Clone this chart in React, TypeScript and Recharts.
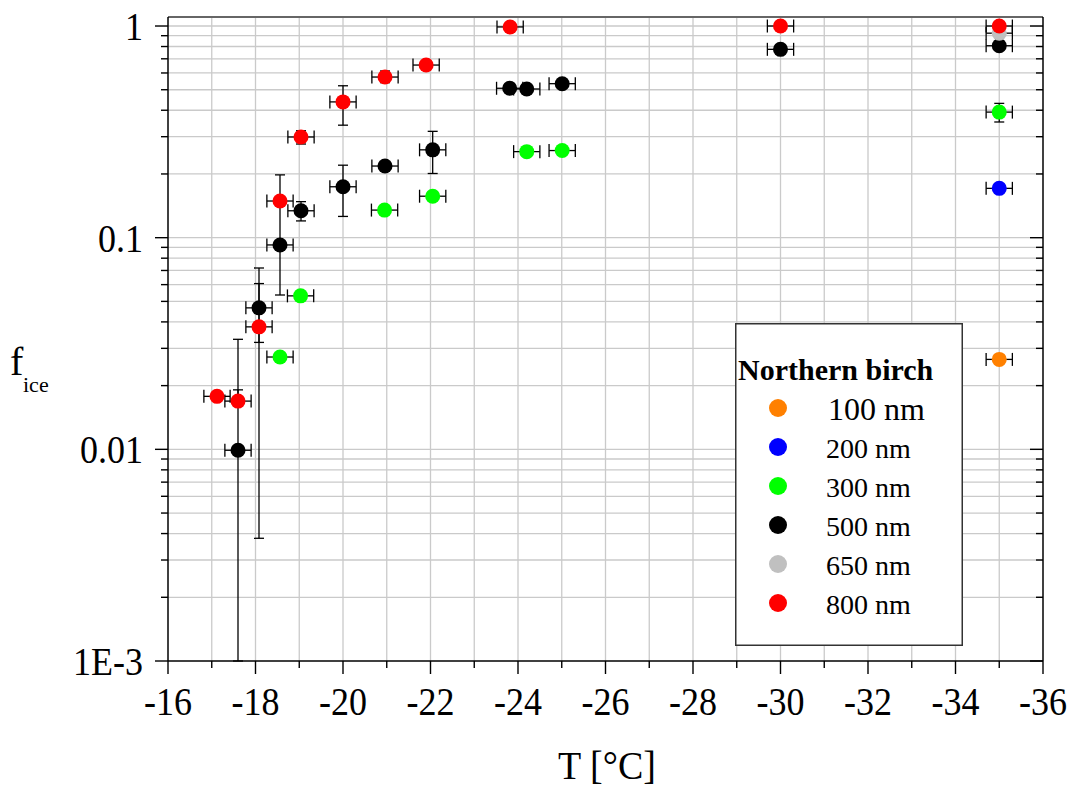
import React from 'react';
import { ScatterChart, Scatter, XAxis, YAxis, ErrorBar, ReferenceLine } from 'recharts';

// ---------- data ----------
const seriesNames = ['100 nm', '200 nm', '300 nm', '500 nm', '650 nm', '800 nm'];
const seriesColors = ['#ff8000', '#0000ff', '#00ff00', '#000000', '#c0c0c0', '#ff0000'];

const t100 = [-35];
const f100 = [0.0266];
const low100 = [null];
const high100 = [null];

const t200 = [-35];
const f200 = [0.171];
const low200 = [null];
const high200 = [null];

const t300 = [-18.56, -19.03, -20.95, -22.05, -24.2, -25.01, -35];
const f300 = [0.0273, 0.0531, 0.135, 0.157, 0.255, 0.258, 0.392];
const low300 = [null, null, null, null, null, null, 0.352];
const high300 = [null, null, null, null, null, null, 0.431];

const t500 = [-17.6, -18.08, -18.56, -19.04, -20, -20.96, -22.05, -23.81, -24.2, -25.01, -30, -35];
const f500 = [0.0099, 0.0466, 0.0924, 0.134, 0.174, 0.218, 0.26, 0.508, 0.504, 0.534, 0.776, 0.807];
const low500 = [0.001, 0.0038, 0.0536, 0.12, 0.126, null, 0.201, null, null, null, null, null];
const high500 = [0.0331, 0.0719, 0.198, 0.148, 0.22, null, 0.318, null, null, null, null, null];

const t650 = [-35];
const f650 = [0.925];
const low650 = [null];
const high650 = [null];

const t800 = [-17.12, -17.6, -18.08, -18.56, -19.04, -20, -20.96, -21.9, -23.82, -30, -35];
const f800 = [0.0178, 0.0169, 0.0379, 0.149, 0.299, 0.438, 0.574, 0.654, 0.99, 1.0, 1.0];
const low800 = [null, null, 0.032, null, 0.277, 0.34, 0.54, null, null, null, null];
const high800 = [null, 0.0191, 0.0607, null, 0.32, 0.522, 0.613, null, null, null, null];

const tError = 0.3;

const xTicks = [-16, -17, -18, -19, -20, -21, -22, -23, -24, -25, -26, -27, -28, -29, -30, -31, -32, -33, -34, -35, -36];
const xGrid = [-17, -18, -19, -20, -21, -22, -23, -24, -25, -26, -27, -28, -29, -30, -31, -32, -33, -34, -35];
const yMajor = [0.001, 0.01, 0.1, 1];
const yMajorLabels = ['1E-3', '0.01', '0.1', '1'];
const yMinor = [
  0.002, 0.003, 0.004, 0.005, 0.006, 0.007, 0.008, 0.009,
  0.02, 0.03, 0.04, 0.05, 0.06, 0.07, 0.08, 0.09,
  0.2, 0.3, 0.4, 0.5, 0.6, 0.7, 0.8, 0.9,
];
const yGrid = [...yMinor, 0.01, 0.1, 1];
const yTicks = [...yMajor, ...yMinor].sort((a, b) => a - b);

const legendTitle = 'Northern birch';
const xLabel = 'T [°C]';

// ---------- build ----------
type Row = { T: number; f: number; xe: number[]; ye?: number[] };

const raw = [
  [t100, f100, low100, high100],
  [t200, f200, low200, high200],
  [t300, f300, low300, high300],
  [t500, f500, low500, high500],
  [t650, f650, low650, high650],
  [t800, f800, low800, high800],
] as any[];

const series = raw.map((r, i) => {
  const [ts, fs, lows, highs] = r as [number[], number[], (number | null)[], (number | null)[]];
  const rows: Row[] = ts.map((t, j) => ({ T: t, f: fs[j], xe: [tError, tError] }));
  const yRows: Row[] = [];
  ts.forEach((t, j) => {
    const lo = lows[j];
    const hi = highs[j];
    if (lo != null || hi != null) {
      yRows.push({
        T: t,
        f: fs[j],
        xe: [0, 0],
        ye: [lo != null ? fs[j] - lo : 0, hi != null ? hi - fs[j] : 0],
      });
    }
  });
  return { name: seriesNames[i], color: seriesColors[i], rows, yRows };
});

const FONT = '"Liberation Serif", "Times New Roman", serif';

const isMajorY = (v: number) => yMajor.some((m) => Math.abs(m - v) < 1e-12);
const majorYLabel = (v: number) => {
  const i = yMajor.findIndex((m) => Math.abs(m - v) < 1e-12);
  return i >= 0 ? yMajorLabels[i] : '';
};

const LeftTick = (p: any) => {
  const { x, y, payload } = p;
  const major = isMajorY(payload.value);
  return (
    <g>
      <line x1={x - (major ? 13 : 7)} x2={x} y1={y} y2={y} stroke="#000" strokeWidth={1.4} />
      {major && (
        <text
          transform={`translate(${x - 25},${y + 14}) scale(0.9,1)`}
          textAnchor="end"
          fontFamily={FONT}
          fontSize={40}
          fill="#000"
        >
          {majorYLabel(payload.value)}
        </text>
      )}
    </g>
  );
};

const RightTick = (p: any) => {
  const { x, y, payload } = p;
  const major = isMajorY(payload.value);
  return <line x1={x - (major ? 13 : 7)} x2={x} y1={y} y2={y} stroke="#000" strokeWidth={1.4} />;
};

const BottomTick = (p: any) => {
  const { x, y, payload } = p;
  const major = Math.round(payload.value) % 2 === 0;
  return (
    <g>
      <line x1={x} x2={x} y1={y} y2={y + (major ? 13 : 7)} stroke="#000" strokeWidth={1.4} />
      {major && (
        <text
          transform={`translate(${x},${y + 54}) scale(0.9,1)`}
          textAnchor="middle"
          fontFamily={FONT}
          fontSize={40}
          fill="#000"
        >
          {String(payload.value)}
        </text>
      )}
    </g>
  );
};

const TopTick = (p: any) => {
  const { x, y, payload } = p;
  const major = Math.round(payload.value) % 2 === 0;
  return <line x1={x} x2={x} y1={y} y2={y + (major ? 13 : 8)} stroke="#333" strokeWidth={1.4} />;
};

const XLabel = () => (
  <text transform="translate(607,779) scale(0.95,1)" textAnchor="middle" fontFamily={FONT} fontSize={40} fill="#000">
    {xLabel}
  </text>
);

const YLabel = () => (
  <text x={10} y={375} fontFamily={FONT} fill="#000">
    <tspan fontSize={40}>f</tspan>
    <tspan x={23} y={392} fontSize={22}>ice</tspan>
  </text>
);

const EmptyShape = () => <g />;

export default function App() {
  return (
    <div style={{ position: 'absolute', left: 0, top: 0, width: 1069, height: 791, background: '#fff' }}>
      <ScatterChart width={1069} height={791} margin={{ top: 0, right: 0, bottom: 0, left: 0 }}>
        {xGrid.map((v) => (
          <ReferenceLine key={'gx' + v} x={v} stroke="#cacaca" strokeWidth={1.3} />
        ))}
        {yGrid.map((v) => (
          <ReferenceLine key={'gy' + v} y={v} stroke="#cacaca" strokeWidth={1.3} />
        ))}
        <XAxis
          dataKey="T"
          type="number"
          domain={[-36, -16]}
          reversed
          allowDataOverflow
          ticks={xTicks}
          interval={0}
          height={130}
          tickSize={0}
          tickMargin={0}
          tickLine={false}
          tick={<BottomTick />}
          axisLine={{ stroke: '#000', strokeWidth: 1.5 }}
          label={<XLabel />}
        />
        <XAxis
          xAxisId="top"
          orientation="top"
          type="number"
          domain={[-36, -16]}
          reversed
          allowDataOverflow
          ticks={xTicks}
          interval={0}
          height={17}
          tickSize={0}
          tickMargin={0}
          tickLine={false}
          tick={<TopTick />}
          axisLine={{ stroke: '#666', strokeWidth: 2 }}
        />
        <YAxis
          dataKey="f"
          type="number"
          scale="log"
          domain={[0.001, 1.103]}
          allowDataOverflow
          ticks={yTicks}
          interval={0}
          width={168}
          tickSize={0}
          tickMargin={0}
          tickLine={false}
          tick={<LeftTick />}
          axisLine={{ stroke: '#000', strokeWidth: 1.5 }}
          label={<YLabel />}
        />
        <YAxis
          yAxisId="right"
          orientation="right"
          type="number"
          scale="log"
          domain={[0.001, 1.103]}
          allowDataOverflow
          ticks={yTicks}
          interval={0}
          width={26}
          tickSize={0}
          tickMargin={0}
          tickLine={false}
          tick={<RightTick />}
          axisLine={{ stroke: '#000', strokeWidth: 1.5 }}
        />
        {series.map((s) => [
          <Scatter
            key={s.name + '-xerr'}
            data={s.rows}
            shape={<EmptyShape />}
            isAnimationActive={false}
          >
            <ErrorBar dataKey="xe" direction="x" width={6.5} stroke="#000" strokeWidth={1.3} isAnimationActive={false} />
          </Scatter>,
          <Scatter
            key={s.name + '-pts'}
            name={s.name}
            data={s.rows}
            isAnimationActive={false}
            shape={(p: any) => <circle cx={p.cx} cy={p.cy} r={7.5} fill={s.color} />}
          />,
          s.yRows.length > 0 ? (
            <Scatter
              key={s.name + '-yerr'}
              data={s.yRows}
              shape={<EmptyShape />}
              isAnimationActive={false}
            >
              <ErrorBar dataKey="ye" direction="y" width={5} stroke="#000" strokeWidth={1.3} isAnimationActive={false} />
            </Scatter>
          ) : null,
        ])}
      </ScatterChart>
      <svg
        width={228}
        height={323}
        style={{ position: 'absolute', left: 735, top: 323 }}
      >
        <rect x={0.75} y={0.75} width={226.5} height={321.5} fill="#fff" stroke="#333" strokeWidth={1.5} />
        <text x={3} y={57} fontFamily={FONT} fontWeight="bold" fontSize={30} fill="#000">
          {legendTitle}
        </text>
        {series.map((s, i) => (
          <g key={'lg' + s.name}>
            <circle cx={43} cy={85 + i * 39} r={9} fill={s.color} />
            <text
              x={i === 0 ? 93 : 91}
              y={85 + i * 39 + (i === 0 ? 12 : 11)}
              fontFamily={FONT}
              fontSize={i === 0 ? 32 : 28}
              fill="#000"
            >
              {s.name}
            </text>
          </g>
        ))}
      </svg>
    </div>
  );
}
